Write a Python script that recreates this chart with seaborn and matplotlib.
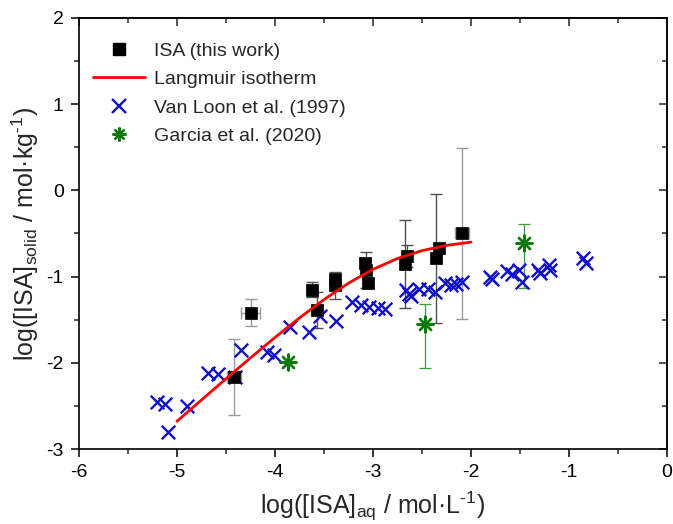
import numpy as np
import pandas as pd
import matplotlib
matplotlib.use("Agg")
import matplotlib.pyplot as plt
from matplotlib.lines import Line2D
from matplotlib.ticker import MultipleLocator
import seaborn as sns

# ISA sorption data measured in this work
isa_x = [-4.42, -4.25, -3.62, -3.57, -3.39, -3.39, -3.08, -3.07, -3.05,
         -2.655, -2.67, -2.33, -2.355, -2.09]
isa_y = [-2.16, -1.42, -1.155, -1.39, -1.03, -1.10, -0.84, -0.92, -1.07,
         -0.76, -0.85, -0.67, -0.79, -0.50]
isa_xerr = [0.07, 0.10, 0.04, 0.05, 0.04, 0.04, 0.04, 0.04, 0.04,
            0.04, 0.04, 0.04, 0.04, 0.07]
isa_yerr = [0.44, 0.155, 0.087, 0.21, 0.05, 0.155, 0.05, 0.21, 0.05,
            0.125, 0.51, 0.05, 0.75, 0.99]
isa_bar_light = [True, True, False, False, False, False, False, False, False,
                 False, False, False, False, True]

# Langmuir isotherm curve
lang_x = [-5.0, -4.75, -4.5, -4.25, -4.0, -3.75, -3.5, -3.25, -3.0,
          -2.75, -2.5, -2.25, -2.0]
lang_y = [-2.678, -2.431, -2.185, -1.943, -1.706, -1.479, -1.267, -1.076,
          -0.916, -0.790, -0.699, -0.638, -0.600]

# Van Loon et al. (1997)
vl_x = [-5.20, -5.12, -5.09, -4.90, -4.68, -4.58, -4.41, -4.35, -4.08, -4.01,
        -3.85, -3.65, -3.54, -3.38, -3.21, -3.12, -3.04, -2.95, -2.88,
        -2.66, -2.63, -2.61, -2.53, -2.44, -2.37, -2.27, -2.20, -2.15, -2.09,
        -1.81, -1.79, -1.63, -1.58, -1.51, -1.48, -1.32, -1.30, -1.20, -1.19,
        -0.86, -0.83]
vl_y = [-2.46, -2.48, -2.80, -2.50, -2.12, -2.13, -2.16, -1.85, -1.88, -1.91,
        -1.58, -1.64, -1.46, -1.52, -1.29, -1.33, -1.35, -1.36, -1.38,
        -1.16, -1.20, -1.23, -1.14, -1.14, -1.18, -1.08, -1.10, -1.09, -1.06,
        -1.00, -1.03, -0.94, -0.97, -0.92, -1.06, -0.92, -0.96, -0.87, -0.92,
        -0.79, -0.84]

# Garcia et al. (2020)
ga_x = [-3.87, -2.47, -1.46]
ga_y = [-1.99, -1.55, -0.61]
ga_err_low = [0.0, 0.51, 0.52]
ga_err_high = [0.0, 0.23, 0.22]

x_label = r"log([ISA]$_{\mathregular{aq}}$ / mol·L$^{\text{-1}}$)"
y_label = r"log([ISA]$_{\mathregular{solid}}$ / mol·kg$^{\text{-1}}$)"
legend_labels = ["ISA (this work)", "Langmuir isotherm",
                 "Van Loon et al. (1997)", "Garcia et al. (2020)"]

sns.set_theme(style="ticks")
plt.rcParams["font.family"] = ["Liberation Sans", "DejaVu Sans"]
plt.rcParams["mathtext.fontset"] = "custom"
plt.rcParams["mathtext.rm"] = "Liberation Sans"
plt.rcParams["mathtext.it"] = "Liberation Sans:italic"
plt.rcParams["mathtext.bf"] = "Liberation Sans:bold"
plt.rcParams["axes.unicode_minus"] = False

BLUE = "#1010CC"
GREEN = "#0B7A0B"
RED = "#FF0000"

fig, ax = plt.subplots(figsize=(6.73, 5.24), dpi=100)
fig.subplots_adjust(left=79 / 673, right=667 / 673, top=1 - 18 / 524,
                    bottom=1 - 449 / 524)

isa = pd.DataFrame({"x": isa_x, "y": isa_y, "xerr": isa_xerr,
                    "yerr": isa_yerr, "light": isa_bar_light})
for light, grp in isa.groupby("light"):
    ax.errorbar(grp["x"], grp["y"], xerr=grp["xerr"], yerr=grp["yerr"],
                fmt="none", ecolor="#9a9a9a" if light else "#505050",
                elinewidth=1.0, capsize=4, capthick=1.0, zorder=2)

ax.errorbar(ga_x, ga_y, yerr=[ga_err_low, ga_err_high], fmt="none",
            ecolor="#3c9a3c", elinewidth=0.9, capsize=4, capthick=0.9, zorder=2)

sns.scatterplot(x=vl_x, y=vl_y, marker="x", s=95, color=BLUE, linewidth=1.7,
                ax=ax, zorder=3, legend=False)
sns.scatterplot(x=isa_x, y=isa_y, marker="s", s=68, color="black",
                edgecolor="black", linewidth=0.5, ax=ax, zorder=4, legend=False)
sns.scatterplot(x=ga_x, y=ga_y, marker=(8, 2, 0), s=130, color=GREEN,
                edgecolor=GREEN, linewidth=1.7, ax=ax, zorder=4, legend=False)
sns.lineplot(x=lang_x, y=lang_y, color=RED, linewidth=2.0, sort=False,
             estimator=None, ax=ax, zorder=5)

ax.set_xlim(-6, 0)
ax.set_ylim(-3, 2)
ax.xaxis.set_major_locator(MultipleLocator(1))
ax.xaxis.set_minor_locator(MultipleLocator(0.5))
ax.yaxis.set_major_locator(MultipleLocator(1))
ax.yaxis.set_minor_locator(MultipleLocator(0.5))
ax.tick_params(which="major", direction="out", length=6, width=1.1,
               labelsize=14, colors="black", pad=5)
ax.tick_params(which="minor", direction="out", length=3.5, width=1.1)
for side in ["top", "right", "bottom", "left"]:
    ax.spines[side].set_visible(True)
    ax.spines[side].set_linewidth(1.2)
    ax.spines[side].set_color("black")

top = ax.secondary_xaxis("top")
top.xaxis.set_major_locator(MultipleLocator(1))
top.xaxis.set_minor_locator(MultipleLocator(0.5))
top.tick_params(which="major", direction="in", length=6, width=1.1, labeltop=False)
top.tick_params(which="minor", direction="in", length=3.5, width=1.1)
top.spines["top"].set_linewidth(1.2)
right = ax.secondary_yaxis("right")
right.yaxis.set_major_locator(MultipleLocator(1))
right.yaxis.set_minor_locator(MultipleLocator(0.5))
right.tick_params(which="major", direction="in", length=6, width=1.1, labelright=False)
right.tick_params(which="minor", direction="in", length=3.5, width=1.1)
right.spines["right"].set_linewidth(1.2)

ax.set_xlabel(x_label, fontsize=18, labelpad=6)
ax.set_ylabel(y_label, fontsize=18, labelpad=4)

handles = [
    Line2D([], [], linestyle="none", marker="s", markersize=8, color="black"),
    Line2D([], [], color=RED, linewidth=2.0),
    Line2D([], [], linestyle="none", marker="x", markersize=9.5,
           markeredgewidth=1.7, color=BLUE),
    Line2D([], [], linestyle="none", marker=(8, 2, 0), markersize=10,
           markeredgewidth=1.6, color=GREEN),
]
ax.legend(handles, legend_labels, loc="upper left", bbox_to_anchor=(0.0, 0.975),
          frameon=False, fontsize=14, handlelength=2.7, handletextpad=0.45,
          labelspacing=0.55, borderaxespad=0.3)

fig.savefig("out.png", dpi=100)
